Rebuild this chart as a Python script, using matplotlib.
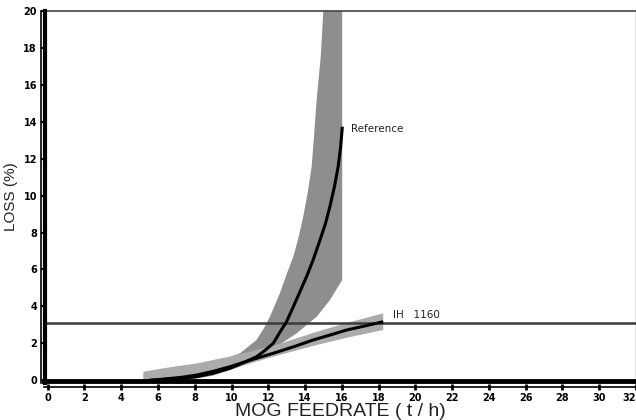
import matplotlib
matplotlib.use("Agg")
import matplotlib.pyplot as plt

# reference curve (black) and its band (dark gray)
ref_x = [5.6, 6.3, 7.2, 8.1, 9.0, 9.9, 10.6, 11.36, 11.8, 12.27, 12.6, 12.99,
         13.36, 13.7, 14.08, 14.45, 14.81, 15.1, 15.35, 15.6, 15.8, 15.93, 16.02]
ref_y = [0.0, 0.03, 0.1, 0.19, 0.38, 0.64, 0.93, 1.27, 1.6, 2.0, 2.55, 3.17,
         3.98, 4.75, 5.61, 6.55, 7.59, 8.45, 9.4, 10.5, 11.57, 12.6, 13.65]
ref_band_x = [6.0, 7.5, 8.8, 9.6, 10.46, 11.36, 11.75, 12.09, 12.63, 13.0, 13.36,
              13.65, 13.9, 14.15, 14.36, 14.5, 14.63, 14.85, 15.05,
              16.02, 16.02, 15.35, 14.63, 13.54, 12.45, 11.5, 10.5, 9.0, 7.5, 6.0]
ref_band_y = [0.3, 0.65, 0.95, 1.15, 1.46, 2.18, 2.8, 3.44, 4.71, 5.75, 6.69,
              7.75, 8.86, 10.2, 11.57, 13.4, 15.18, 17.5, 21.0,
              21.0, 5.43, 4.34, 3.44, 2.54, 1.82, 1.25, 0.75, 0.25, 0.0, -0.1]

# IH 1160 curve (black) and its band (light gray)
ih_x = [5.6, 6.5, 7.3, 8.1, 9.0, 9.91, 11.0, 12.27, 13.4, 14.44, 15.4, 16.26, 17.3, 18.25]
ih_y = [0.0, 0.08, 0.16, 0.28, 0.48, 0.73, 1.08, 1.46, 1.82, 2.18, 2.46, 2.72, 2.95, 3.17]
ih_band_x = [5.2, 6.5, 8.1, 10.0, 12.45, 14.4, 16.26, 18.25,
             18.25, 16.26, 14.4, 12.0, 10.0, 8.1, 6.5, 5.2]
ih_band_y = [0.46, 0.68, 0.91, 1.3, 1.92, 2.55, 3.1, 3.62,
             2.72, 2.3, 1.85, 1.2, 0.6, 0.15, -0.05, -0.1]

ih_level = 3.1

xticks = list(range(0, 33, 2))
yticks = list(range(0, 21, 2))

W, H = 636, 420
fig = plt.figure(figsize=(W / 100, H / 100), dpi=100)
ax = fig.add_axes([44 / W, 1 - 383 / H, (636 - 44) / W, (383 - 11) / H])

ax.fill(ref_band_x, ref_band_y, color="#8e8e8e", lw=0, zorder=2)
ax.fill(ih_band_x, ih_band_y, color="#ababab", lw=0, zorder=2)
ax.axhline(ih_level, color="#3a3a3a", lw=1.8, zorder=3)
ax.plot(ih_x, ih_y, color="black", lw=2.2, zorder=4, solid_capstyle="butt")
ax.plot(ref_x, ref_y, color="black", lw=2.2, zorder=4)

ax.text(16.5, 13.6, "Reference", fontsize=7.5, color="#222222",
        family="DejaVu Sans", va="center")
ax.text(18.8, 3.55, "IH   1160", fontsize=7.5, color="#222222",
        family="DejaVu Sans", va="center")

ax.set_xlim(-0.2, 32)
ax.set_ylim(-0.15, 20)

# heavy inner axis lines
ax.axhline(-0.02, color="black", lw=3.5, zorder=5, clip_on=False)
ax.axvline(-0.12, color="black", lw=3, zorder=5, clip_on=False)

ax.spines["bottom"].set_position(("outward", 3))
ax.spines["left"].set_position(("outward", 2))
ax.spines["bottom"].set_linewidth(1.2)
ax.spines["left"].set_linewidth(1.2)
ax.spines["top"].set_color("#444444")
ax.spines["top"].set_linewidth(1.2)
ax.spines["right"].set_color("#777777")
ax.spines["right"].set_linewidth(1.0)

tick_font = {"family": ["Liberation Sans Narrow", "DejaVu Sans"],
             "weight": "bold", "size": 7}
ax.set_xticks(xticks)
ax.set_yticks(yticks)
ax.set_xticklabels([str(t) for t in xticks], fontdict=tick_font)
ax.set_yticklabels([str(t) for t in yticks], fontdict=tick_font)
ax.get_xticklabels()[-1].set_horizontalalignment("right")
ax.tick_params(axis="x", direction="inout", length=5, width=2, pad=2)
ax.tick_params(axis="y", direction="in", length=3, width=1.5, pad=3)

ax.set_xlabel("MOG FEEDRATE ( t / h)", fontsize=14, family="Liberation Sans",
              labelpad=0, color="#222222")
ax.set_ylabel("LOSS (%)", fontsize=11, family="Liberation Sans",
              labelpad=4, color="#222222")

fig.savefig("out.png", dpi=100)
